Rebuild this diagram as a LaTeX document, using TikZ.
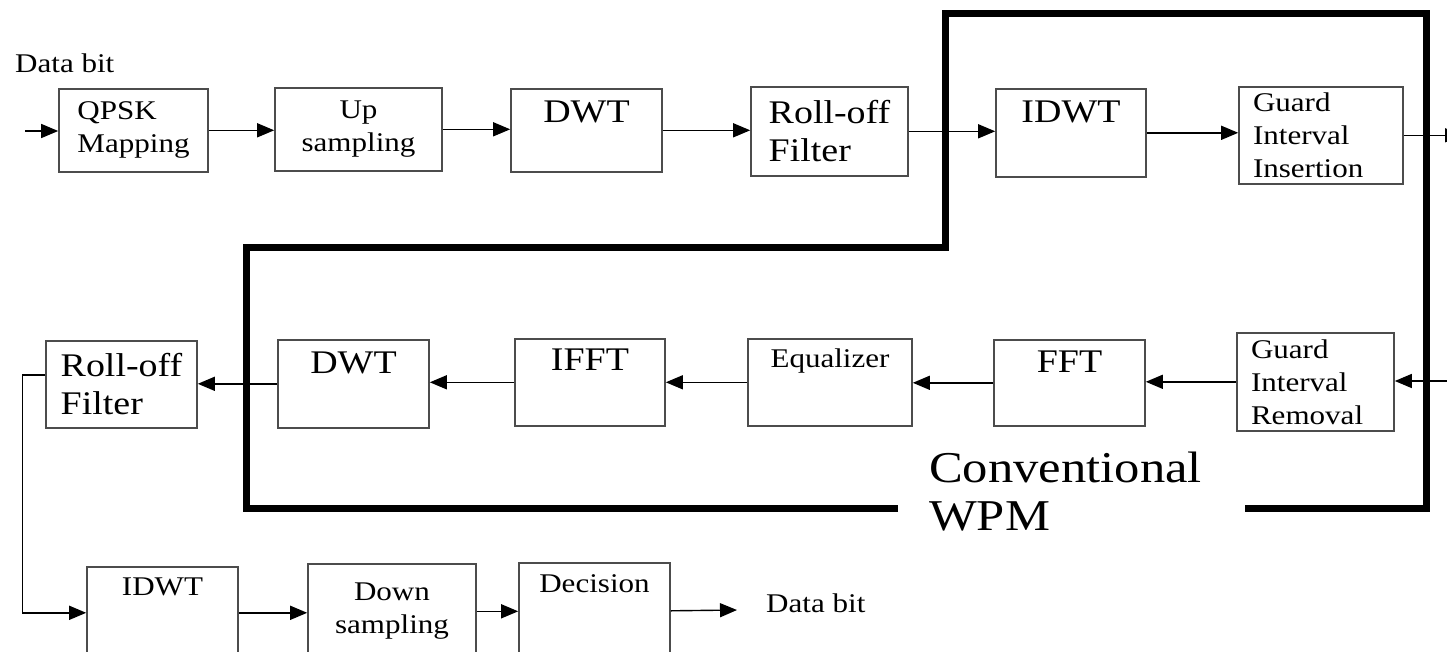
\documentclass[tikz,border=0pt]{standalone}
\usepackage{fontspec}
\newfontfamily\tnr[FakeStretch=1.15]{Liberation Serif}
\usepackage{tikz}
\usetikzlibrary{arrows.meta}

\begin{document}
\begin{tikzpicture}[x=1pt,y=-1pt,>={Triangle[length=17pt,width=14pt]},
    blk/.style={rectangle,draw=black!70,line width=1.6pt,inner sep=0pt,anchor=north,align=center},
    sm/.style={font=\tnr\fontsize{27}{33}\selectfont},
    lg/.style={font=\tnr\fontsize{33}{38}\selectfont},
    wire/.style={->,line width=1.4pt}]
    \useasboundingbox (0,0) rectangle (1447,651);
    \clip (0,0) rectangle (1447,651);
    \draw[line width=7pt] (898,508) -- (246,508) -- (246,247) -- (945,247) -- (945,13)
        -- (1426,13) -- (1426,508) -- (1245,508);
    % transmitter
    \node[sm,anchor=base west,inner sep=0pt] (din) at (15,72) {Data bit};
    \node[blk,sm,align=left,minimum width=149pt,minimum height=83pt] (qpsk) at (133.5,88) {QPSK\\Mapping};
    \node[blk,sm,minimum width=167pt,minimum height=83pt] (ups) at (358.5,87) {Up\\sampling};
    \node[blk,lg,minimum width=151pt,text height=34pt,text depth=49pt] (dwta) at (586.5,88) {DWT};
    \node[blk,lg,align=left,minimum width=157pt,minimum height=89pt] (rofa) at (829.5,86) {Roll-off\\Filter};
    \node[blk,lg,minimum width=150pt,text height=34pt,text depth=54pt] (idwta) at (1071,88) {IDWT};
    \node[blk,sm,align=left,text width=136pt,inner xsep=14pt,minimum height=97pt] (gii) at (1321,86) {Guard\\Interval\\Insertion};
    % receiver
    \node[blk,lg,align=left,minimum width=151pt,minimum height=87pt] (rofb) at (121.5,340) {Roll-off\\Filter};
    \node[blk,lg,minimum width=151pt,text height=34pt,text depth=54pt] (dwtb) at (353.5,339) {DWT};
    \node[blk,lg,minimum width=150pt,text height=32pt,text depth=55pt] (ifft) at (590,338) {IFFT};
    \node[blk,sm,minimum width=164pt,text height=29pt,text depth=58pt] (eq) at (830,338) {Equalizer};
    \node[blk,lg,minimum width=151pt,text height=33pt,text depth=53pt] (fft) at (1069.5,339) {FFT};
    \node[blk,sm,align=left,text width=129pt,inner xsep=14pt,minimum height=98pt] (gir) at (1315.5,332) {Guard\\Interval\\Removal};
    \node[font=\tnr\fontsize{44}{48}\selectfont,align=left,anchor=north west,inner sep=0pt] (conv) at (929,452) {Conventional\\WPM};
    \node[blk,sm,minimum width=151pt,text height=29pt,text depth=63pt] (idwtc) at (162.5,566) {IDWT};
    \node[blk,sm,minimum width=168pt,minimum height=95pt] (dns) at (392,563) {Down\\sampling};
    \node[blk,sm,minimum width=151pt,text height=30pt,text depth=66pt] (dec) at (594.5,562) {Decision};
    \node[sm,anchor=base west,inner sep=0pt] (dout) at (766,612) {Data bit};
    \coordinate (src) at (25,131);
    \coordinate (tx) at (1462,134);
    \coordinate (rx) at (1462,381);
    \coordinate (snk) at (737,610);
    \draw[wire] (src) -- (src -| qpsk.west);
    \foreach \a/\b in {qpsk/ups,ups/dwta,dwta/rofa,rofa/idwta,idwta/gii}
        \draw[wire] (\a.east) -- (\a.east -| \b.west);
    \draw[wire] (gii.east) -- (gii.east -| tx);
    \draw[wire] (rx) -- (rx -| gir.east);
    \foreach \a/\b in {gir/fft,fft/eq,eq/ifft,ifft/dwtb,dwtb/rofb}
        \draw[wire] (\a.west) -- (\a.west -| \b.east);
    \draw[wire] ([yshift=9.5pt]rofb.west) -- ++(-23,0) |- (idwtc.west);
    \foreach \a/\b in {idwtc/dns,dns/dec}
        \draw[wire] (\a.east) -- (\a.east -| \b.west);
    \draw[wire] (dec.east) -- (snk);
\end{tikzpicture}
\end{document}
